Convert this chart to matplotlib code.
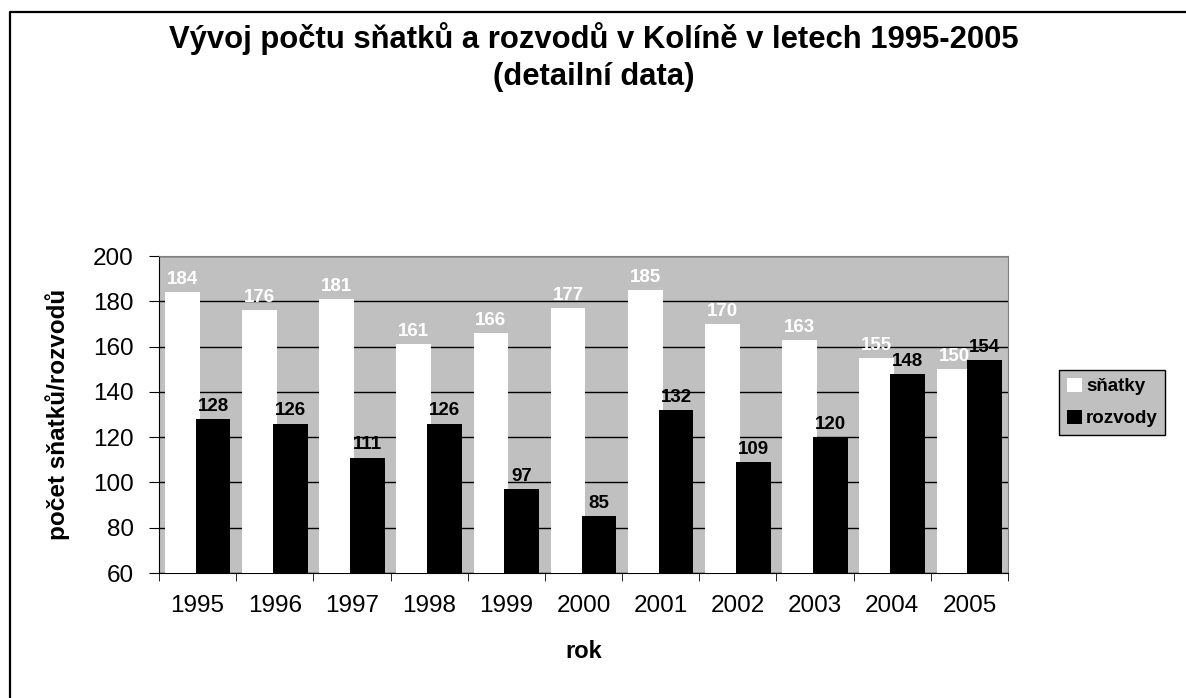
import matplotlib
matplotlib.use("Agg")
import matplotlib.pyplot as plt
import numpy as np
from matplotlib.lines import Line2D

years = ["1995", "1996", "1997", "1998", "1999", "2000", "2001", "2002", "2003", "2004", "2005"]
snatky = [184, 176, 181, 161, 166, 177, 185, 170, 163, 155, 150]
rozvody = [128, 126, 111, 126, 97, 85, 132, 109, 120, 148, 154]

plt.rcParams['font.family'] = ['Liberation Sans', 'DejaVu Sans']

W, H = 1186, 698
fig = plt.figure(figsize=(W/100, H/100), dpi=100)
fig.patch.set_facecolor('white')

# outer chart frame (only left and top edges visible)
fig.lines.append(Line2D([10/W, 10/W, 1.0], [0.0, 1-12/H, 1-12/H], transform=fig.transFigure,
                        color='black', linewidth=1.6))

ax = fig.add_axes([159/W, 1-573/H, (1008-159)/W, (573-256)/H])
ax.set_facecolor('#C0C0C0')
x = np.arange(len(years))
w = 0.45
off = 0.2
b1 = ax.bar(x - off, snatky, width=w, color='white', edgecolor='none', label='sňatky', zorder=3)
b2 = ax.bar(x + off, rozvody, width=w, color='black', edgecolor='none', label='rozvody', zorder=3)

for xi, v in zip(x, snatky):
    ax.text(xi - off, v + 3.6, str(v), ha='center', va='baseline', color='white',
            fontsize=13.5, fontweight='bold', zorder=4)
for xi, v in zip(x, rozvody):
    ax.text(xi + off, v + 3.6, str(v), ha='center', va='baseline', color='black',
            fontsize=13.5, fontweight='bold', zorder=4)

ax.set_ylim(60, 200)
ax.set_xlim(-0.5, len(years) - 0.5)
ax.set_yticks(range(60, 201, 20))
ax.yaxis.grid(True, color='black', linewidth=1, zorder=1)
ax.set_axisbelow(True)
ax.set_xticks(x)
ax.set_xticklabels(years, fontsize=17.5)
ax.set_xticks(np.arange(-0.5, len(years)), minor=True)
ax.tick_params(axis='x', which='major', length=0, pad=16)
ax.tick_params(axis='x', which='minor', length=6, direction='out', color='black')
ax.tick_params(axis='y', labelsize=17.5, length=7, direction='out', color='black', pad=11)
for s in ['top', 'right']:
    ax.spines[s].set_color('#808080')
for s in ['left', 'bottom']:
    ax.spines[s].set_color('black')

fig.text(583.5/W, 1-652/H, 'rok', ha='center', va='center', fontsize=17, fontweight='bold')
fig.text(58/W, 1-414/H, 'počet sňatků/rozvodů', ha='center', va='center', rotation=90,
         fontsize=17.5, fontweight='bold')

fig.text(594/W, 1-48/H, 'Vývoj počtu sňatků a rozvodů v Kolíně v letech 1995-2005',
         ha='center', va='baseline', fontsize=22.3, fontweight='bold')
fig.text(594/W, 1-85/H, '(detailní data)', ha='center', va='baseline', fontsize=22.3, fontweight='bold')

leg = fig.legend(handles=[b1, b2], loc='center left', bbox_to_anchor=(1059/W, 1-402.5/H),
                 frameon=True, fancybox=False, prop={'weight': 'bold', 'size': 13.5},
                 handlelength=0.8, handleheight=0.8, handletextpad=0.25, borderpad=0.4,
                 borderaxespad=0, labelspacing=0.75)
leg.get_frame().set_facecolor('#C0C0C0')
leg.get_frame().set_edgecolor('black')
leg.get_frame().set_linewidth(1.0)
leg.get_frame().set_alpha(1)

fig.savefig('out.png', dpi=100)
